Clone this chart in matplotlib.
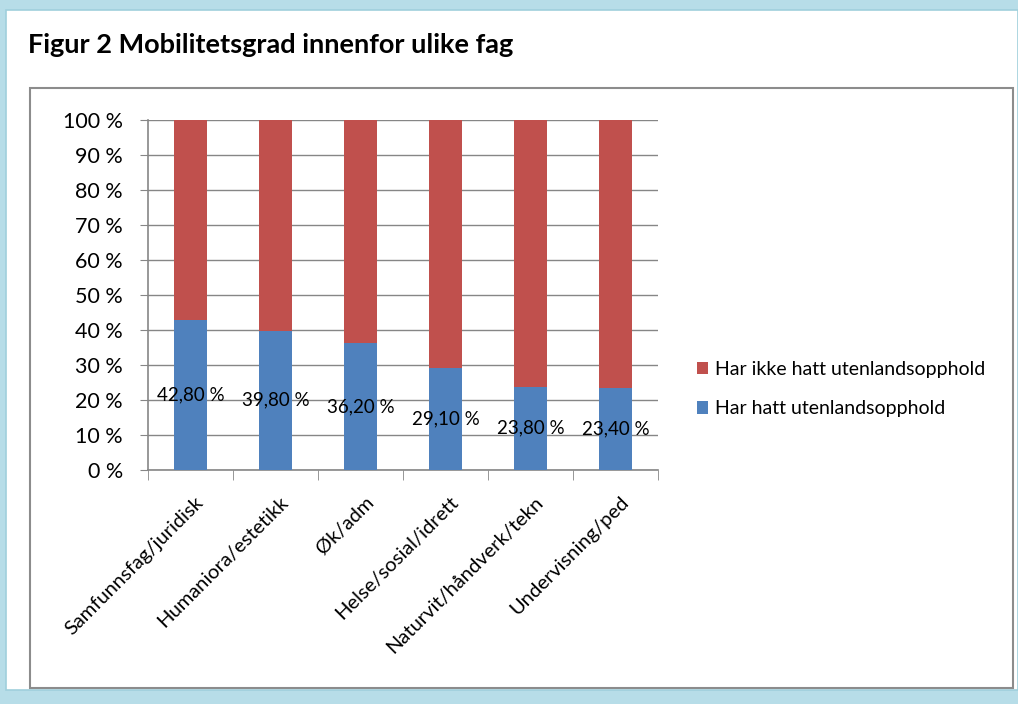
import matplotlib.pyplot as plt
from matplotlib.patches import Rectangle
import numpy as np

plt.rcParams['font.family'] = ['Lato', 'DejaVu Sans']

# data
categories = ['Samfunnsfag/juridisk', 'Humaniora/estetikk', 'Øk/adm',
              'Helse/sosial/idrett', 'Naturvit/håndverk/tekn', 'Undervisning/ped']
har_hatt = [42.8, 39.8, 36.2, 29.1, 23.8, 23.4]
har_ikke = [100 - v for v in har_hatt]
value_labels = ['42,80 %', '39,80 %', '36,20 %', '29,10 %', '23,80 %', '23,40 %']
yticks = list(range(0, 101, 10))

W, H = 1018, 704
fig = plt.figure(figsize=(W / 100, H / 100), dpi=100, facecolor='#b7dde8')

def px(x, y, w, h):
    return (x / W, 1 - (y + h) / H, w / W, h / H)

# white panel and inner chart frame
fig.patches.append(Rectangle(px(6, 10, 1012, 680)[:2], 1012 / W, 680 / H,
                             transform=fig.transFigure, facecolor='white',
                             edgecolor='#9fcfdc', lw=1.2, zorder=-2))
fig.patches.append(Rectangle(px(30, 88, 983, 600)[:2], 983 / W, 600 / H,
                             transform=fig.transFigure, facecolor='white',
                             edgecolor='#8c8c8c', lw=1.5, zorder=-1))

fig.text(28 / W, 1 - 45 / H, 'Figur 2 Mobilitetsgrad innenfor ulike fag',
         fontsize=19.5, fontweight='bold', va='center', ha='left')

ax = fig.add_axes(px(148, 120, 510, 350))
ax.set_facecolor('none')
x = np.arange(len(categories))
blue = ax.bar(x, har_hatt, width=0.39, color='#4f81bd', zorder=3,
              label='Har hatt utenlandsopphold')
red = ax.bar(x, har_ikke, width=0.39, bottom=har_hatt, color='#c0504d', zorder=3,
             label='Har ikke hatt utenlandsopphold')

for xi, v, lab in zip(x, har_hatt, value_labels):
    ax.text(xi, v / 2, lab, ha='center', va='center', fontsize=13.5, zorder=4)

ax.set_xlim(-0.5, len(categories) - 0.5)
ax.set_ylim(0, 100)
ax.set_yticks(yticks)
ax.set_yticklabels([f'{t} %' for t in yticks], fontsize=15.5)
ax.yaxis.grid(True, color='#868686', lw=1, zorder=0)
ax.tick_params(axis='y', length=6, color='#868686', pad=12)

ax.set_xticks(x + 0.05)
ax.set_xticklabels(categories, rotation=45, ha='right', va='top',
                   rotation_mode='anchor', fontsize=14.5)
ax.tick_params(axis='x', length=0, pad=17)
ax.set_xticks(np.arange(-0.5, len(categories)), minor=True)
ax.tick_params(axis='x', which='minor', length=7, color='#868686')

for s in ['top', 'right']:
    ax.spines[s].set_visible(False)
for s in ['left', 'bottom']:
    ax.spines[s].set_color('#868686')
    ax.spines[s].set_linewidth(1.2)

ax.legend(handles=[red, blue], loc='center left', bbox_to_anchor=(1.076, 0.231),
          frameon=False, fontsize=14, handlelength=0.6, handleheight=0.6,
          handletextpad=0.35, labelspacing=1.15, borderpad=0, borderaxespad=0)

fig.savefig('out.png', dpi=100, facecolor=fig.get_facecolor())
